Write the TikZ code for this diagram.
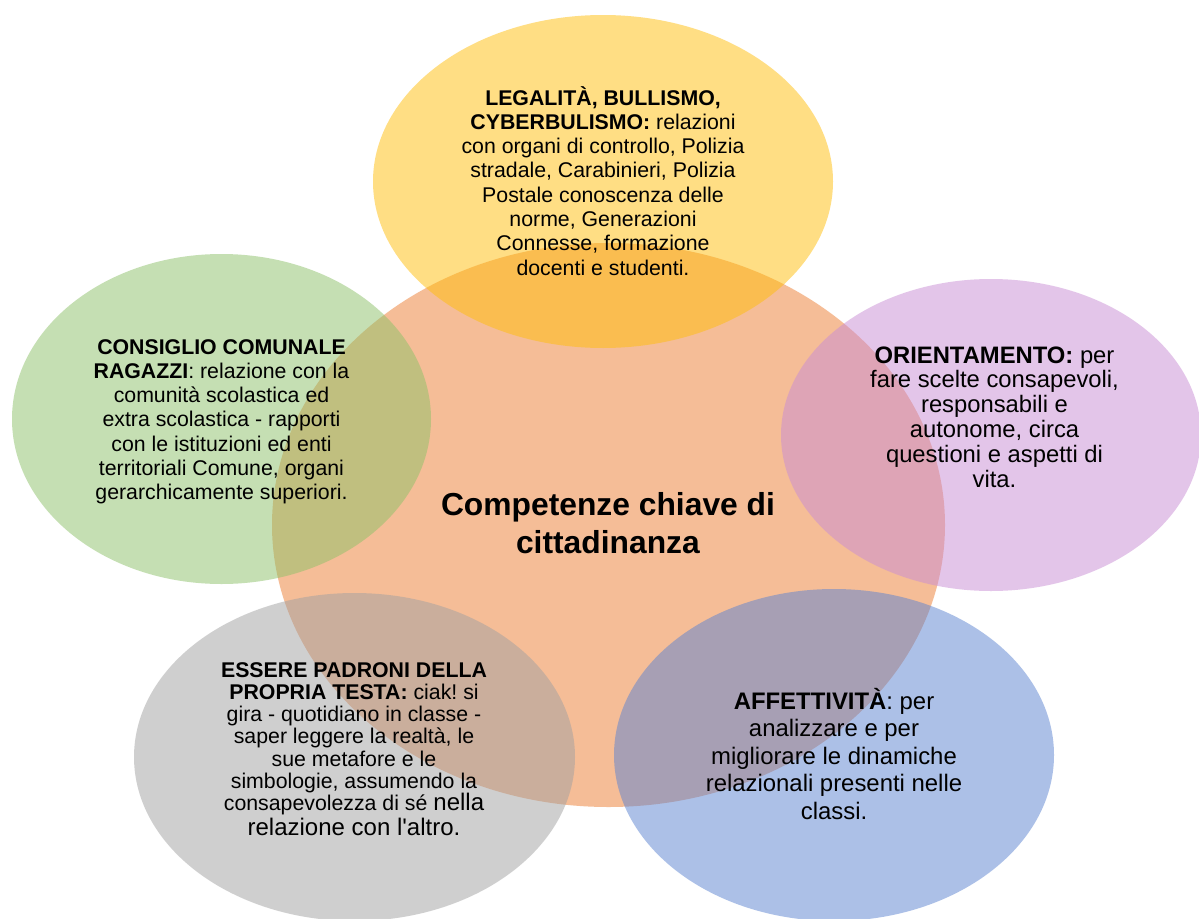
\documentclass[tikz,border=0pt]{standalone}
\usepackage{fontspec}
\setmainfont{Liberation Sans}[Ligatures=TeXOff]
\usetikzlibrary{shapes.geometric}
\frenchspacing
\definecolor{cOrange}{HTML}{ED7D31}
\definecolor{cYellow}{HTML}{FFBE0B}
\definecolor{cGreen}{HTML}{8DC169}
\definecolor{cPurple}{HTML}{C98DD5}
\definecolor{cGray}{HTML}{A1A1A1}
\definecolor{cBlue}{HTML}{5B83D1}
\newcommand\txtblock[3]{{\fontsize{#1}{#2}\selectfont\frenchspacing\setlength\tabcolsep{0pt}\begin{tabular}[t]{c}#3\end{tabular}}}
\newcommand\bigtxt{\fontsize{24}{26}\selectfont}
\tikzset{
  blob/.style={ellipse, inner sep=0pt, outer sep=0pt, draw=none, fill opacity=0.5},
  txt/.style={inner sep=0pt, outer sep=0pt, anchor=base, text=black}
}
\begin{document}
\begin{tikzpicture}[x=1pt, y=-1pt]
\clip (0,0) rectangle (1199,918);
\fill[white] (0,0) rectangle (1199,918);
% ellipses
\node[blob, fill=cOrange, minimum width=673pt, minimum height=564pt] (core) at (608.5,525) {};
\node[blob, fill=cYellow, minimum width=460pt, minimum height=333pt] (legal) at (603,181.5) {};
\node[blob, fill=cGreen, minimum width=419pt, minimum height=330pt] (cons) at (221.5,419) {};
\node[blob, fill=cPurple, minimum width=420pt, minimum height=312pt] (orient) at (991,435) {};
\node[blob, fill=cGray, minimum width=441pt, minimum height=328pt] (padr) at (354.5,757) {};
\node[blob, fill=cBlue, minimum width=440pt, minimum height=332pt] (affet) at (834,755) {};
% texts
\node[txt] (legalT) at (603,105) {\txtblock{21.3}{24.3}{%
\textbf{LEGALITÀ, BULLISMO,}\\
\textbf{CYBERBULISMO:} relazioni\\
con organi di controllo, Polizia\\
stradale, Carabinieri, Polizia\\
Postale conoscenza delle\\
norme, Generazioni\\
Connesse, formazione\\
docenti e studenti.}};
\node[txt] (consT) at (221.5,354) {\txtblock{21.3}{24.3}{%
\textbf{CONSIGLIO COMUNALE}\\
\textbf{RAGAZZI}: relazione con la\\
comunità scolastica ed\\
extra scolastica - rapporti\\
con le istituzioni ed enti\\
territoriali Comune, organi\\
gerarchicamente superiori.}};
\node[txt] (orientT) at (994.5,363) {\txtblock{23.8}{24.8}{%
\textbf{ORIENTAMENTO:} per\\
fare scelte consapevoli,\\
responsabili e\\
autonome, circa\\
questioni e aspetti di\\
vita.}};
\node[txt] (padrT) at (354,677) {\txtblock{21.3}{22.3}{%
\textbf{ESSERE PADRONI DELLA}\\
\textbf{PROPRIA TESTA:} ciak! si\\
gira - quotidiano in classe -\\
saper leggere la realtà, le\\
sue metafore e le\\
simbologie, assumendo la\\
consapevolezza di sé \smash{\bigtxt nella}\\[2.7pt]
\smash{\bigtxt relazione con l'altro.}}};
\node[txt] (affetT) at (834,709) {\txtblock{23.9}{27.5}{%
\textbf{AFFETTIVITÀ}: per\\
analizzare e per\\
migliorare le dinamiche\\
relazionali presenti nelle\\
classi.}};
\node[txt] (coreT) at (608,515) {\txtblock{31.8}{38}{%
\textbf{Competenze chiave di}\\
\textbf{cittadinanza}}};
\end{tikzpicture}
\end{document}
